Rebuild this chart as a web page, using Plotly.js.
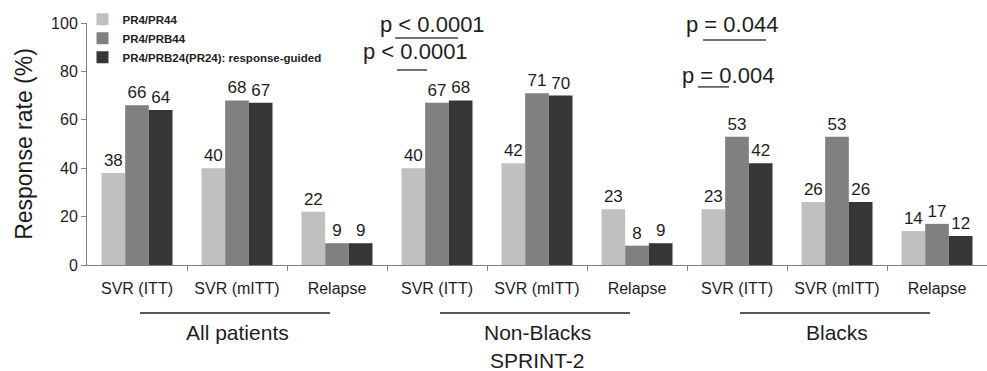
<!DOCTYPE html>
<html><head><meta charset="utf-8">
<script src="https://cdn.plot.ly/plotly-3.0.1.min.js"></script>
<style>html,body{margin:0;padding:0;background:#fff}</style>
</head><body>
<div id="chart" style="width:987px;height:371px"></div>
<script>
const categories = ["SVR (ITT)","SVR (mITT)","Relapse","SVR (ITT)","SVR (mITT)","Relapse","SVR (ITT)","SVR (mITT)","Relapse"];
const groups = ["All patients","Non-Blacks","Blacks"];
const seriesNames = ["PR4/PR44","PR4/PRB44","PR4/PRB24(PR24): response-guided"];
const pr44   = [38,40,22, 40,42,23, 23,26,14];
const prb44  = [66,68,9,  67,71,8,  53,53,17];
const prb24  = [64,67,9,  68,70,9,  42,26,12];
const pLabels = ["p < 0.0001","p < 0.0001","p = 0.044","p = 0.004"];
const yTicks = [0,20,40,60,80,100];

const FONT = "Arial, Liberation Sans, sans-serif";
const colors = ["#c0c0c0","#808080","#363636"];
const xIdx = categories.map((_, i) => i);
const seriesData = [pr44, prb44, prb24];

const traces = seriesData.map((vals, k) => ({
  type: "bar", x: xIdx, y: vals, name: seriesNames[k],
  marker: {color: colors[k], line: {width: 0}},
  text: vals.map(String), textposition: "outside", cliponaxis: false,
  textfont: {family: FONT, size: 17, color: "#1e1e1e"},
  hoverinfo: "none"
}));
// invisible trace on overlay axis for boundary ticks
traces.push({type:"scatter", x:[-0.5,8.5], y:[0,0], xaxis:"x2", mode:"none", showlegend:false, hoverinfo:"none"});

const annotations = [];
const shapes = [];
groups.forEach((g, gi) => {
  const c0 = gi*3, c2 = gi*3+2;
  annotations.push({text: g, x: (c0+c2)/2, xref:"x", y: -0.277, yref:"paper", yanchor:"middle", showarrow:false,
    font:{family:FONT, size:21, color:"#1e1e1e"}});
  shapes.push({type:"line", xref:"x", yref:"paper", x0: c0+0.03, x1: c2-0.07, y0:-0.198, y1:-0.198,
    line:{color:"#222", width:1.5}});
});
annotations.push({text:"SPRINT-2", x:4, xref:"x", y:-0.393, yref:"paper", yanchor:"middle", showarrow:false,
  font:{family:FONT, size:21, color:"#1e1e1e"}});

const pPos = [[2.95,99.3],[2.78,88.2],[5.95,99.3],[5.91,78.2]];
const pLines = [[2.58,3.21,93.8],[2.60,2.90,80.6],[5.66,6.29,93.0],[5.61,5.92,73.6]];
pLabels.forEach((t,i) => {
  annotations.push({text:t, x:pPos[i][0], y:pPos[i][1], xref:"x", yref:"y", yanchor:"middle", showarrow:false,
    font:{family:FONT, size:22, color:"#1e1e1e"}});
  shapes.push({type:"line", xref:"x", yref:"y", x0:pLines[i][0], x1:pLines[i][1], y0:pLines[i][2], y1:pLines[i][2],
    line:{color:"#444", width:1.5}});
});

const layout = {
  width: 987, height: 371,
  margin: {l: 87, r: 0, t: 23, b: 106},
  paper_bgcolor: "#fff", plot_bgcolor: "#fff",
  barmode: "group", bargap: 0.29, bargroupgap: 0,
  font: {family: FONT, color: "#1e1e1e"},
  showlegend: true,
  legend: {x: -0.005, y: 1.075, xanchor: "left", yanchor: "top", bgcolor: "rgba(0,0,0,0)",
    font: {family: FONT, size: 11.5, color: "#222", weight: "bold"},
    tracegroupgap: 0, itemwidth: 30},
  xaxis: {range: [-0.5, 8.5], tickvals: xIdx, ticktext: categories, ticks: "", showgrid: false,
    zeroline: false, showline: true, linecolor: "#808080", linewidth: 1,
    tickfont: {size: 16, color: "#1e1e1e"}, ticklabelstandoff: 9, fixedrange: true},
  xaxis2: {overlaying: "x", range: [-0.5, 8.5], tickvals: [0.5,1.5,2.5,3.5,4.5,5.5,6.5,7.5,8.5],
    showticklabels: false, ticks: "outside", ticklen: 5, tickcolor: "#808080", showgrid: false,
    zeroline: false, showline: false, side: "bottom", anchor: "y"},
  yaxis: {range: [0, 100], tickvals: yTicks, ticks: "outside", ticklen: 5, tickcolor: "#808080",
    showgrid: false, zeroline: false, showline: true, linecolor: "#808080", linewidth: 1,
    tickfont: {size: 16, color: "#1e1e1e"},
    title: {text: "Response rate (%)", font: {size: 23, color: "#1a1a1a"}, standoff: 12}},
  annotations, shapes
};
Plotly.newPlot("chart", traces, layout, {displayModeBar: false, staticPlot: true});
</script>
</body></html>
